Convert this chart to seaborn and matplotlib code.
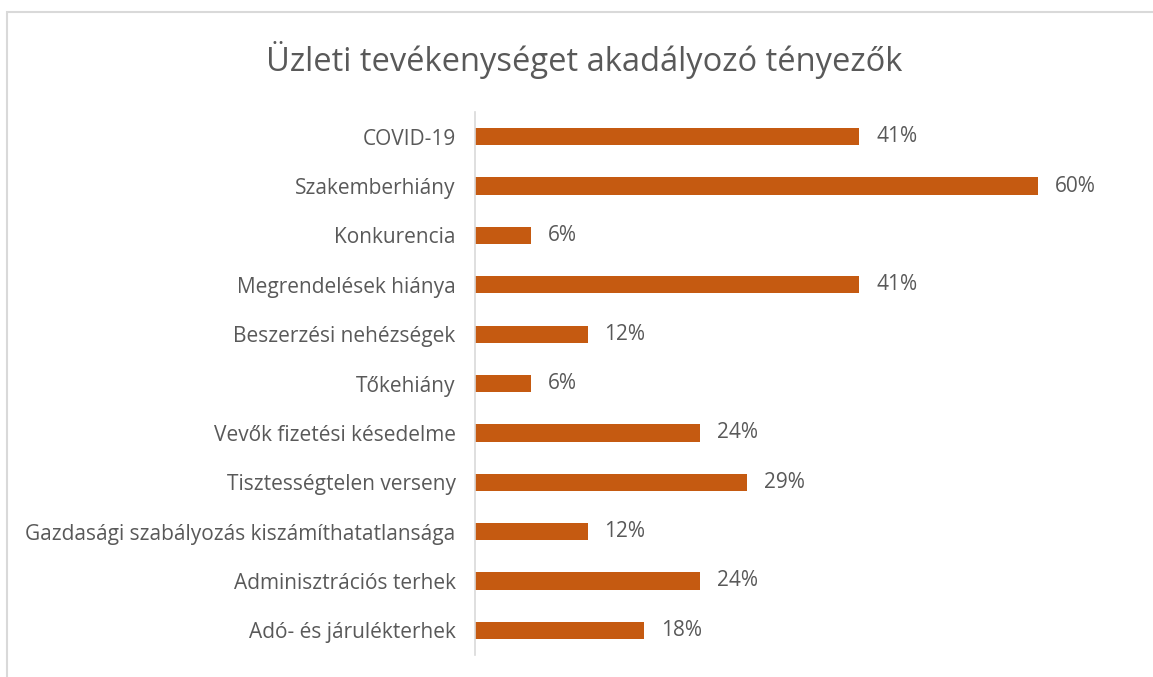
'''horizontal bar chart of business obstacles'''
import matplotlib
matplotlib.use('Agg')
import matplotlib.pyplot as plt
import matplotlib.patches as mpatches
import pandas as pd
import seaborn as sns

#region data
categories = ['COVID-19', 'Szakemberhiány', 'Konkurencia', 'Megrendelések hiánya',
              'Beszerzési nehézségek', 'Tőkehiány', 'Vevők fizetési késedelme',
              'Tisztességtelen verseny', 'Gazdasági szabályozás kiszámíthatatlansága',
              'Adminisztrációs terhek', 'Adó- és járulékterhek']
values = [41, 60, 6, 41, 12, 6, 24, 29, 12, 24, 18]
title = 'Üzleti tevékenységet akadályozó tényezők'
#endregion

bar_col = '#C55A11'
txt_col = '#595959'

sns.set_theme(style='white')
plt.rcParams['font.family'] = ['Open Sans', 'DejaVu Sans']

df = pd.DataFrame({'cat': categories, 'val': values})

fig = plt.figure(figsize=(11.53, 6.77), dpi=100)
ax = fig.add_axes([0.412, 0.0325, 0.57, 0.802])

sns.barplot(data=df, x='val', y='cat', color=bar_col, width=0.35, ax=ax,
            saturation=1, edgecolor='none')

ax.set_xlim(0, 70.1)
ax.set_ylim(len(categories) - 0.5, -0.5)
ax.set_xlabel('')
ax.set_ylabel('')
ax.set_xticks([])
for s in ['top', 'right', 'bottom']:
    ax.spines[s].set_visible(False)
ax.spines['left'].set_color('#D9D9D9')
ax.spines['left'].set_linewidth(1.2)
ax.tick_params(axis='y', length=0, pad=14, labelsize=15, labelcolor=txt_col)

for i, v in enumerate(values):
    ax.text(v + 1.8, i, f'{v}%', va='center', ha='left', fontsize=15, color=txt_col)

fig.text(0.507, 0.911, title, ha='center', va='center', fontsize=23.5, color=txt_col)

# chart frame (only top and left edges visible in the crop)
fig.add_artist(mpatches.Rectangle((7 / 1153, -0.1), 1.2, 1 - 12 / 677 + 0.1,
                                  transform=fig.transFigure, fill=False,
                                  edgecolor='#D9D9D9', linewidth=1.5))

fig.savefig('out.png', dpi=100)
